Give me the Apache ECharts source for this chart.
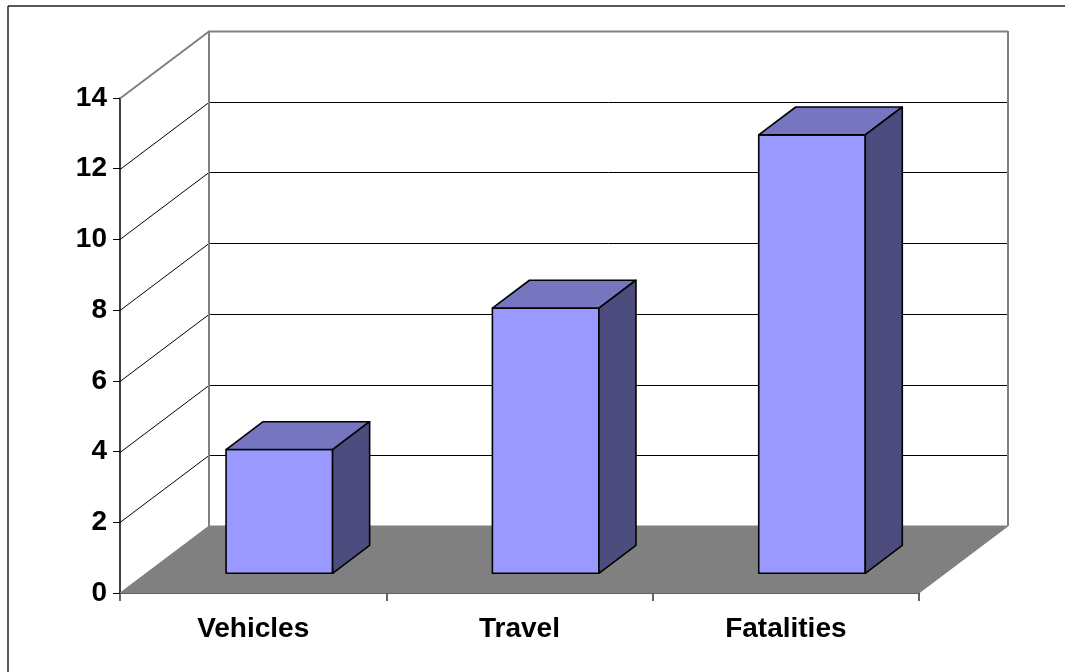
<!DOCTYPE html>
<html><head><meta charset="utf-8">
<script src="https://cdn.jsdelivr.net/npm/echarts@6/dist/echarts.min.js"></script>
<style>html,body{margin:0;padding:0;background:#fff}#c{width:1065px;height:672px}</style>
</head><body><div id="c"></div>
<script>
const categories = ['Vehicles', 'Travel', 'Fatalities'];
const values = [3.5, 7.5, 12.4];
const yTicks = [0, 2, 4, 6, 8, 10, 12, 14];

const DX = 89, DY = -67;     // full depth of the 3D box (px)
const F1 = 0.294, F2 = 0.71; // bar front/back depth fractions
const HALF = 0.2;            // half bar width as fraction of band
const FONT = '"Liberation Sans", Arial, sans-serif';

const chart = echarts.init(document.getElementById('c'), null, { renderer: 'canvas' });

function backdrop(params, api) {
  const cs = params.coordSys;
  const x0 = cs.x, x1 = cs.x + cs.width;
  const yb = api.coord([0, yTicks[0]])[1];
  const yt = api.coord([0, yTicks[yTicks.length - 1]])[1];
  const ch = [];
  ch.push({ type: 'polygon', shape: { points: [[x0, yb], [x1, yb], [x1 + DX, yb + DY], [x0 + DX, yb + DY]] },
    style: { fill: '#808080', stroke: '#808080', lineWidth: 1 } });
  yTicks.forEach((v, k) => {
    if (k === 0) return;
    const y = Math.round(api.coord([0, v])[1]) + 0.5;
    const last = k === yTicks.length - 1;
    ch.push({ type: 'polyline', shape: { points: [[x0, y], [x0 + DX, y + DY], [x1 + DX, y + DY]] },
      style: { stroke: last ? '#808080' : '#000', lineWidth: last ? 2 : 1, fill: null } });
  });
  ch.push({ type: 'line', shape: { x1: x0 + DX, y1: yb + DY, x2: x0 + DX, y2: yt + DY }, style: { stroke: '#808080', lineWidth: 2 } });
  ch.push({ type: 'line', shape: { x1: x1 + DX, y1: yb + DY, x2: x1 + DX, y2: yt + DY }, style: { stroke: '#808080', lineWidth: 2 } });
  return { type: 'group', children: ch };
}

function bar3d(params, api) {
  const i = api.value(0), v = api.value(1);
  const base = api.coord([i, 0]);
  const top = api.coord([i, v]);
  const band = api.size([1, 0])[0];
  const hw = band * HALF;
  const fx = F1 * DX, fy = F1 * DY;
  const bx = (F2 - F1) * DX, by = (F2 - F1) * DY;
  const L = base[0] - hw + fx, R = base[0] + hw + fx, B = base[1] + fy, T = top[1] + fy;
  const st = { stroke: '#000', lineWidth: 1.6, lineJoin: 'round' };
  return { type: 'group', children: [
    { type: 'polygon', shape: { points: [[L, B], [R, B], [R, T], [L, T]] }, style: Object.assign({ fill: '#9999FF' }, st) },
    { type: 'polygon', shape: { points: [[L, T], [R, T], [R + bx, T + by], [L + bx, T + by]] }, style: Object.assign({ fill: '#7676C0' }, st) },
    { type: 'polygon', shape: { points: [[R, B], [R + bx, B + by], [R + bx, T + by], [R, T]] }, style: Object.assign({ fill: '#4C4C7E' }, st) }
  ] };
}

chart.setOption({
  animation: false,
  backgroundColor: '#fff',
  grid: { left: 120, right: 146, top: 98, bottom: 79, containLabel: false },
  xAxis: {
    type: 'category', data: categories, boundaryGap: true,
    axisLine: { lineStyle: { color: '#000', width: 1.5 } },
    axisTick: { show: true, length: 8, lineStyle: { color: '#333', width: 1.5 } },
    axisLabel: { color: '#000', fontSize: 28, fontWeight: 'bold', fontFamily: FONT, margin: 22 },
    splitLine: { show: false }
  },
  yAxis: {
    type: 'value', min: 0, max: 14, interval: 2,
    axisLine: { show: true, lineStyle: { color: '#000', width: 1.5 } },
    axisTick: { show: true, length: 7, lineStyle: { color: '#000', width: 1 } },
    axisLabel: { color: '#000', fontSize: 28, fontWeight: 'bold', fontFamily: FONT, margin: 13 },
    splitLine: { show: false }
  },
  graphic: [
    { type: 'line', shape: { x1: 8, y1: 6, x2: 1065, y2: 6 }, style: { stroke: '#222', lineWidth: 1.5 }, z: 100 },
    { type: 'line', shape: { x1: 8, y1: 6, x2: 8, y2: 672 }, style: { stroke: '#222', lineWidth: 1.5 }, z: 100 }
  ],
  series: [
    { type: 'custom', name: 'backdrop', renderItem: backdrop, data: [[0, 0]], silent: true, clip: false, z: 1 },
    { type: 'custom', name: 'bars', renderItem: bar3d, data: values.map((v, i) => [i, v]), clip: false, z: 3 }
  ]
});
</script>
</body></html>
